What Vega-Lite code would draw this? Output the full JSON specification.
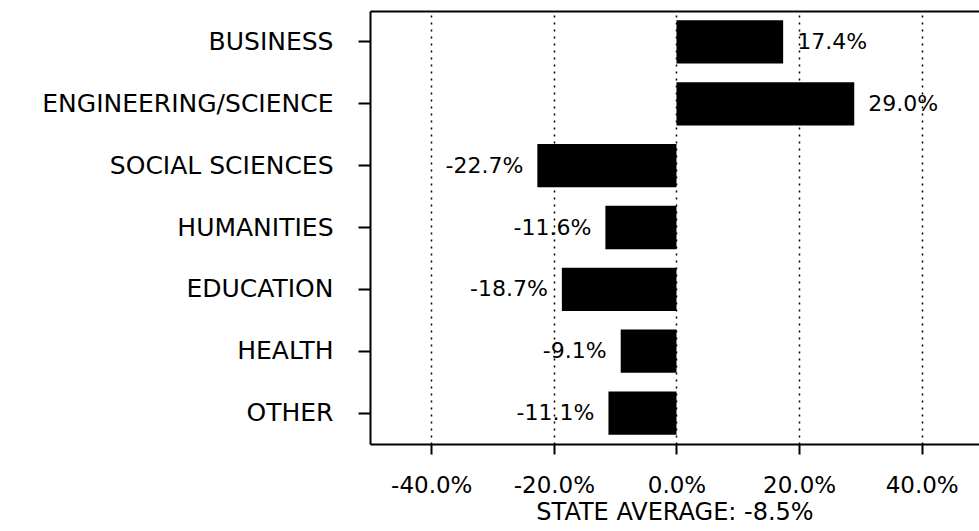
{
  "$schema": "https://vega.github.io/schema/vega-lite/v6.json",
  "width": 609,
  "height": 433,
  "autosize": "none",
  "padding": {"left": 370, "top": 11, "right": 0, "bottom": 87},
  "background": "white",
  "config": {"view": {"stroke": null}, "font": "DejaVu Sans"},
  "data": {
    "values": [
      {"field": "BUSINESS", "value": 17.4, "label": "17.4%"},
      {"field": "ENGINEERING/SCIENCE", "value": 29.0, "label": "29.0%"},
      {"field": "SOCIAL SCIENCES", "value": -22.7, "label": "-22.7%"},
      {"field": "HUMANITIES", "value": -11.6, "label": "-11.6%"},
      {"field": "EDUCATION", "value": -18.7, "label": "-18.7%"},
      {"field": "HEALTH", "value": -9.1, "label": "-9.1%"},
      {"field": "OTHER", "value": -11.1, "label": "-11.1%"}
    ]
  },
  "encoding": {
    "y": {
      "field": "field",
      "type": "nominal",
      "sort": null,
      "scale": {"paddingInner": 0.3, "paddingOuter": 0.15},
      "axis": {
        "title": null,
        "domainColor": "black",
        "domainWidth": 2,
        "tickColor": "black",
        "tickWidth": 2,
        "tickSize": 12,
        "labelFontSize": 25,
        "labelColor": "black",
        "labelPadding": 25,
        "labelLimit": 500,
        "labelFont": "DejaVu Sans"
      }
    }
  },
  "resolve": {"axis": {"x": "independent"}},
  "layer": [
    {
      "mark": {"type": "bar", "color": "black"},
      "encoding": {
        "x": {
          "field": "value",
          "type": "quantitative",
          "scale": {"domain": [-50, 49.35], "nice": false, "zero": false},
          "axis": {
            "orient": "bottom",
            "values": [-40, -20, 0, 20, 40],
            "grid": true,
            "gridColor": "black",
            "gridDash": [2, 5],
            "gridWidth": 1.5,
            "domainColor": "black",
            "domainWidth": 2,
            "tickColor": "black",
            "tickWidth": 2,
            "tickSize": 10,
            "labelFontSize": 23,
            "labelColor": "black",
            "labelPadding": 20,
            "labelFont": "DejaVu Sans",
            "labelExpr": "(datum.value < 0 ? '-' : '') + format(abs(datum.value), '.1f') + '%'",
            "title": "STATE AVERAGE: -8.5%",
            "titleFontSize": 24,
            "titleFontWeight": "normal",
            "titleColor": "black",
            "titleFont": "DejaVu Sans",
            "titlePadding": 3
          }
        }
      }
    },
    {
      "mark": {"type": "rule", "color": "black", "strokeWidth": 2},
      "encoding": {
        "x": {
          "datum": 0,
          "type": "quantitative",
          "axis": {
            "orient": "top",
            "ticks": false,
            "labels": false,
            "grid": false,
            "domainColor": "black",
            "domainWidth": 2,
            "title": null
          }
        }
      }
    },
    {
      "transform": [{"filter": "datum.value >= 0"}],
      "mark": {"type": "text", "align": "left", "baseline": "middle", "dx": 14, "fontSize": 22, "color": "black", "font": "DejaVu Sans"},
      "encoding": {
        "x": {"field": "value", "type": "quantitative", "axis": null},
        "text": {"field": "label"}
      }
    },
    {
      "transform": [{"filter": "datum.value < 0"}],
      "mark": {"type": "text", "align": "right", "baseline": "middle", "dx": -14, "fontSize": 22, "color": "black", "font": "DejaVu Sans"},
      "encoding": {
        "x": {"field": "value", "type": "quantitative", "axis": null},
        "text": {"field": "label"}
      }
    }
  ]
}
